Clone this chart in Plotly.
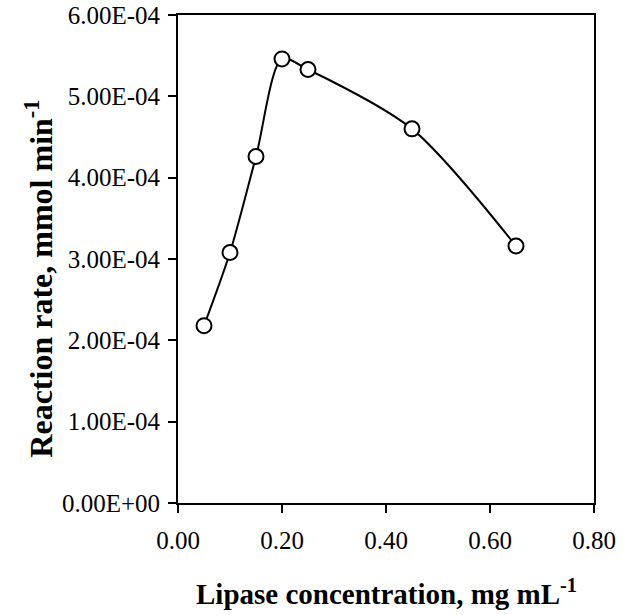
import plotly.graph_objects as go

# Data
lipase_conc = [0.05, 0.10, 0.15, 0.20, 0.25, 0.45, 0.65]          # mg mL^-1
reaction_rate = [2.18e-4, 3.08e-4, 4.26e-4, 5.46e-4, 5.33e-4, 4.60e-4, 3.16e-4]  # mmol min^-1

x_tick_vals = [0.0, 0.2, 0.4, 0.6, 0.8]
y_tick_vals = [0.0, 1e-4, 2e-4, 3e-4, 4e-4, 5e-4, 6e-4]
y_tick_text = [f"{v:.2E}" for v in y_tick_vals]
x_tick_text = [f"{v:.2f}" for v in x_tick_vals]

FONT = "Liberation Serif, Times New Roman, serif"

fig = go.Figure()
fig.add_trace(go.Scatter(
    x=lipase_conc,
    y=reaction_rate,
    mode="lines+markers",
    line=dict(color="black", width=2, shape="spline", smoothing=0.8),
    marker=dict(symbol="circle", size=15, color="white",
                line=dict(color="black", width=2)),
    showlegend=False,
))

fig.update_layout(
    width=626, height=615,
    margin=dict(l=178, r=32, t=15, b=112),
    paper_bgcolor="white", plot_bgcolor="white",
    font=dict(family=FONT, color="black", size=25),
)

fig.update_xaxes(
    range=[0, 0.8], automargin=False,
    tickvals=x_tick_vals, ticktext=x_tick_text,
    ticks="outside", ticklen=8, tickwidth=2, tickcolor="black",
    ticklabelstandoff=6,
    showline=True, linecolor="black", linewidth=2, mirror=True,
    showgrid=False, zeroline=False,
    tickfont=dict(family=FONT, size=25, color="black"),
)
fig.update_yaxes(
    range=[0, 6e-4], automargin=False,
    tickvals=y_tick_vals, ticktext=y_tick_text,
    ticks="outside", ticklen=8, tickwidth=2, tickcolor="black",
    ticklabelstandoff=3,
    showline=True, linecolor="black", linewidth=2, mirror=True,
    showgrid=False, zeroline=False,
    tickfont=dict(family=FONT, size=25, color="black"),
)

fig.add_annotation(
    text="<b>Lipase concentration, mg mL<sup>-1</sup></b>",
    xref="paper", yref="paper", x=0.5, y=-0.182, yanchor="middle",
    xanchor="center", showarrow=False,
    font=dict(family=FONT, size=29, color="black"),
)
fig.add_annotation(
    text="<b>Reaction rate, mmol min<sup>-1</sup></b>",
    xref="paper", yref="paper", x=-0.335, y=0.459, xanchor="center",
    yanchor="middle", textangle=-90, showarrow=False,
    font=dict(family=FONT, size=32, color="black"),
)

fig.write_html("out.html")
